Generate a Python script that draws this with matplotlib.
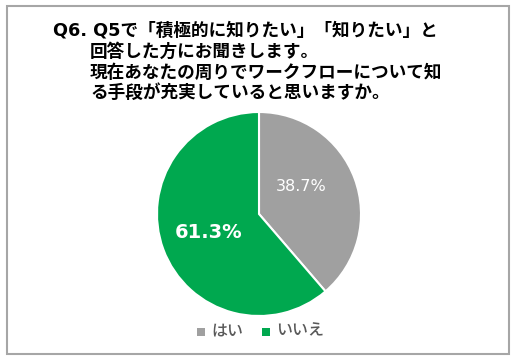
import matplotlib
matplotlib.use("Agg")
import matplotlib.pyplot as plt
from matplotlib.patches import Rectangle

categories = ["はい", "いいえ"]
values = [38.7, 61.3]
colors = ["#A0A0A0", "#00A84F"]
title_lines = [
    "Q6. Q5で「積極的に知りたい」「知りたい」と",
    "回答した方にお聞きします。",
    "現在あなたの周りでワークフローについて知",
    "る手段が充実していると思いますか。",
]

W, H = 516, 362
fig = plt.figure(figsize=(W / 100, H / 100), dpi=100)
fig.patch.set_facecolor("white")

# frame
fig.add_artist(Rectangle((6.5 / W, 1 - 354 / H), (509 - 6.5) / W, (354 - 5.5) / H,
                         transform=fig.transFigure, fill=False,
                         edgecolor="#A6A6A6", linewidth=1.5))

jp = ["DejaVu Sans", "Noto Sans CJK JP"]
ys = [31, 52, 73, 93]
xs = [53, 90, 90, 90]
for t, x, y in zip(title_lines, xs, ys):
    fig.text(x / W, 1 - y / H, t, family=jp, fontweight="bold", fontsize=12.7,
             ha="left", va="center", color="black")

cx, cy, r = 259, 214, 102
ax = fig.add_axes([(cx - r) / W, 1 - (cy + r) / H, 2 * r / W, 2 * r / H])
wedges, _ = ax.pie(values, colors=colors, startangle=90, counterclock=False,
                   wedgeprops=dict(edgecolor="white", linewidth=1.5))
ax.set_aspect("equal")
ax.set_xlim(-1, 1)
ax.set_ylim(-1, 1)

fig.text(301 / W, 1 - 187 / H, f"{values[0]:.1f}%", color="white", fontsize=11.5,
         ha="center", va="center", family="DejaVu Sans")
fig.text(209 / W, 1 - 232 / H, f"{values[1]:.1f}%", color="white", fontsize=14,
         fontweight="bold", ha="center", va="center", family="DejaVu Sans")

# legend
leg_y = 331
items = [(200.5, categories[0], colors[0]), (265.5, categories[1], colors[1])]
for x, lab, col in items:
    fig.add_artist(Rectangle(((x - 4) / W, 1 - (leg_y + 5) / H), 8 / W, 8 / H,
                             transform=fig.transFigure, facecolor=col, edgecolor="none"))
    fig.text((x + 11) / W, 1 - leg_y / H, lab, family=["Noto Sans CJK JP"], fontsize=11.5,
             fontweight="medium", color="#595959", ha="left", va="center")

fig.savefig("out.png", dpi=100, facecolor="white")
